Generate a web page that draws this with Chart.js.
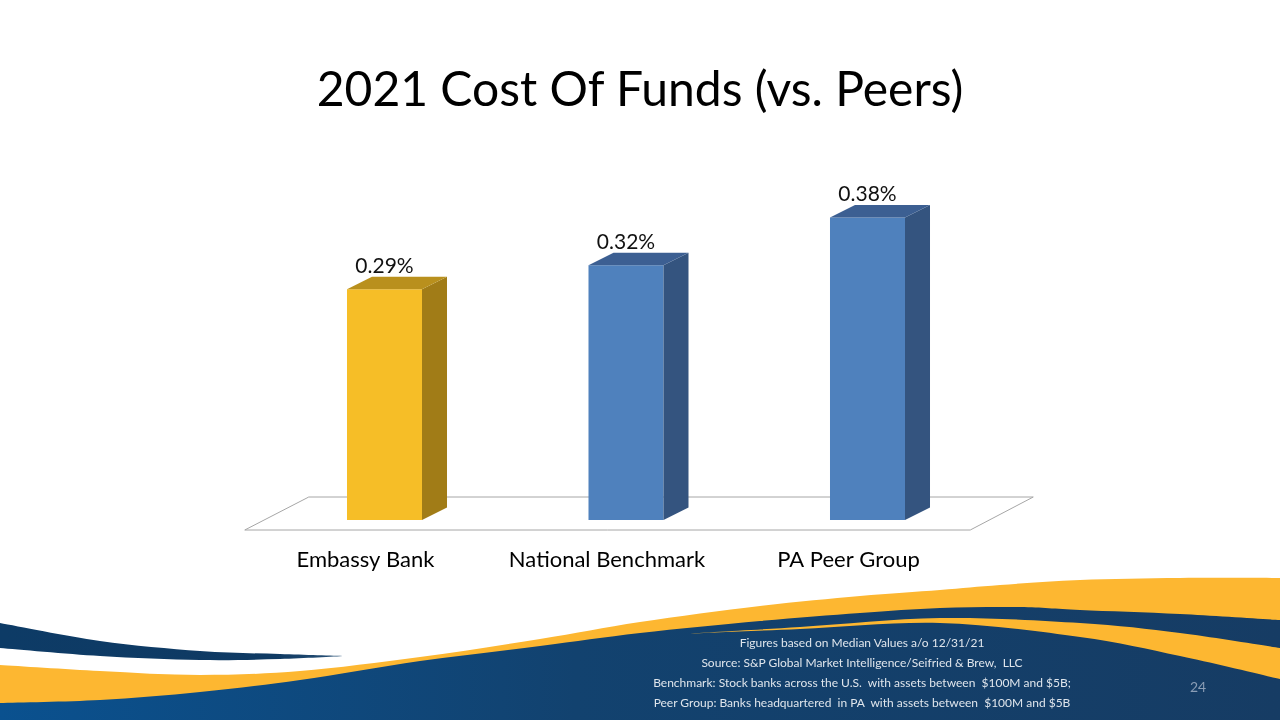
<!DOCTYPE html>
<html>
<head>
<meta charset="utf-8">
<script src="https://cdn.jsdelivr.net/npm/chart.js@4.4.1/dist/chart.umd.min.js"></script>
<style>
  html, body { margin: 0; padding: 0; background: #ffffff; }
  #stage { position: relative; width: 1280px; height: 720px; overflow: hidden; background: #fff; }
  #wave { position: absolute; left: 0; top: 0; }
  #chart { position: absolute; left: 0; top: 0; }
  #title { position: absolute; left: 0; width: 1280px; top: 64px; height: 48px; line-height: 48px; margin: 0;
           text-align: center; font-family: Lato, "Open Sans", sans-serif; font-size: 48px; font-weight: normal; color: #000; }
  #notes { position: absolute; left: 562px; width: 600px; top: 633px; text-align: center;
           font-family: Lato, "Open Sans", sans-serif; font-size: 12px; color: #dfe5ec; line-height: 20px; }
  #page { position: absolute; left: 1180px; top: 678px; width: 36px; text-align: center;
          font-family: Lato, "Open Sans", sans-serif; font-size: 14px; color: #8a9db5; }
</style>
</head>
<body>
<div id="stage">
  <svg id="wave" width="1280" height="720" xmlns="http://www.w3.org/2000/svg"></svg>
  <canvas id="chart" width="1280" height="720"></canvas>
  <h1 id="title">2021 Cost Of Funds (vs. Peers)</h1>
  <div id="notes">
    <div>Figures based on Median Values a/o 12/31/21</div>
    <div>Source: S&amp;P Global Market Intelligence/Seifried &amp; Brew,&nbsp; LLC</div>
    <div>Benchmark: Stock banks across the U.S.&nbsp; with assets between&nbsp; $100M and $5B;</div>
    <div>Peer Group: Banks headquartered&nbsp; in PA&nbsp; with assets between&nbsp; $100M and $5B</div>
  </div>
  <div id="page">24</div>
</div>
<script>
// ---- Data ----
const categories = ['Embassy Bank', 'National Benchmark', 'PA Peer Group'];
const costOfFunds = [0.29, 0.32, 0.38];
const valueLabels = ['0.29%', '0.32%', '0.38%'];
const frontColors = ['#F6BE27', '#4F81BD', '#4F81BD'];
const sideColors = ['#A17C17', '#34547F', '#34547F'];
const topColors = ['#B9901D', '#3C5F92', '#3C5F92'];
const yMin = 0;
const yMax = 0.4;

// ---- Decorative wave (background) ----
function smoothPath(pts) {
  let d = '';
  for (let i = 0; i < pts.length - 1; i++) {
    const p0 = pts[Math.max(0, i - 1)], p1 = pts[i], p2 = pts[i + 1], p3 = pts[Math.min(pts.length - 1, i + 2)];
    const c1x = p1[0] + (p2[0] - p0[0]) / 6, c1y = p1[1] + (p2[1] - p0[1]) / 6;
    const c2x = p2[0] - (p3[0] - p1[0]) / 6, c2y = p2[1] - (p3[1] - p1[1]) / 6;
    d += ' C' + c1x.toFixed(1) + ' ' + c1y.toFixed(1) + ' ' + c2x.toFixed(1) + ' ' + c2y.toFixed(1) + ' ' + p2[0] + ' ' + p2[1];
  }
  return d;
}
function shape(top, bottom) {
  let d = 'M' + top[0][0] + ' ' + top[0][1] + smoothPath(top);
  if (bottom) { d += ' L' + bottom[0][0] + ' ' + bottom[0][1] + smoothPath(bottom); }
  return d + ' Z';
}
(function buildWave() {
  const svg = document.getElementById('wave');
  const yellowTop = [[0,665],[100,671],[200,675],[300,671],[420,657],[540,639],[640,622],[760,606],[860,596],[940,590],[1000,585],[1080,580],[1180,578],[1280,578]];
  const blueTop = [[0,703],[100,700],[200,692],[300,680],[420,661],[540,646],[640,633],[760,621],[860,613],[940,608],[1020,607],[1080,610],[1180,614],[1280,620]];
  const y2Top = [[680,634],[800,627],[940,618],[1080,623],[1180,633],[1280,648]];
  const y2Bot = [[1280,679],[1180,656],[1080,637],[940,623],[800,629],[680,634]];
  const swTop = [[0,623],[100,641],[200,651],[280,654],[345,656]];
  const swBot = [[345,656],[280,659],[200,660],[100,656],[0,648]];
  svg.innerHTML =
    '<defs>' +
    '<linearGradient id="bg" x1="0" y1="0" x2="1280" y2="0" gradientUnits="userSpaceOnUse">' +
    '<stop offset="0" stop-color="#0a518f"/><stop offset="0.45" stop-color="#12426f"/><stop offset="1" stop-color="#163c64"/></linearGradient>' +
    '<linearGradient id="sw" x1="0" y1="0" x2="345" y2="0" gradientUnits="userSpaceOnUse">' +
    '<stop offset="0" stop-color="#0d3b66"/><stop offset="0.8" stop-color="#0f3a63"/><stop offset="1" stop-color="#2a5378"/></linearGradient>' +
    '</defs>' +
    '<path d="' + shape(yellowTop, [[1280,720],[0,720]]) + '" fill="#FDB731"/>' +
    '<path d="' + shape(blueTop, [[1280,720],[0,720]]) + '" fill="url(#bg)"/>' +
    '<path d="' + shape(y2Top, y2Bot) + '" fill="#FDB731"/>' +
    '<path d="' + shape(swTop, swBot) + '" fill="url(#sw)"/>';
})();

// ---- 3D bar + floor plugin ----
const DX = 25, DY = 12.5;
const bars3d = {
  id: 'bars3d',
  beforeDatasetsDraw(chart) {
    const { ctx, chartArea } = chart;
    const base = chart.scales.y.getPixelForValue(0);
    ctx.save();
    ctx.beginPath();
    ctx.moveTo(chartArea.left - 19, base + 10);
    ctx.lineTo(chartArea.right - 18, base + 10);
    ctx.lineTo(chartArea.right + 45, base - 23);
    ctx.lineTo(chartArea.left + 45, base - 23);
    ctx.closePath();
    ctx.fillStyle = '#ffffff';
    ctx.fill();
    ctx.strokeStyle = '#a6a6a6';
    ctx.lineWidth = 1;
    ctx.stroke();
    ctx.restore();
  },
  afterDatasetsDraw(chart) {
    const { ctx } = chart;
    const meta = chart.getDatasetMeta(0);
    ctx.save();
    meta.data.forEach((bar, i) => {
      const { x, y, base, width } = bar.getProps(['x', 'y', 'base', 'width'], true);
      const l = x - width / 2, r = x + width / 2;
      ctx.beginPath();
      ctx.moveTo(r, y); ctx.lineTo(r + DX, y - DY); ctx.lineTo(r + DX, base - DY); ctx.lineTo(r, base);
      ctx.closePath();
      ctx.fillStyle = sideColors[i]; ctx.fill();
      ctx.beginPath();
      ctx.moveTo(l, y); ctx.lineTo(l + DX, y - DY); ctx.lineTo(r + DX, y - DY); ctx.lineTo(r, y);
      ctx.closePath();
      ctx.fillStyle = topColors[i]; ctx.fill();
      ctx.fillStyle = '#111111';
      ctx.font = '21px Lato, "Open Sans", sans-serif';
      ctx.textAlign = 'center';
      ctx.textBaseline = 'middle';
      ctx.fillText(valueLabels[i], x, y - 23);
    });
    ctx.restore();
  }
};

new Chart(document.getElementById('chart'), {
  type: 'bar',
  data: {
    labels: categories,
    datasets: [{
      data: costOfFunds,
      backgroundColor: frontColors,
      borderWidth: 0,
      categoryPercentage: 1,
      barPercentage: 0.3106
    }]
  },
  plugins: [bars3d],
  options: {
    responsive: false,
    animation: false,
    devicePixelRatio: 1,
    layout: { padding: { left: 263.75, right: 291.75, top: 201.6, bottom: 0 } },
    plugins: {
      legend: { display: false },
      tooltip: { enabled: false },
      title: { display: false }
    },
    scales: {
      y: { display: false, min: yMin, max: yMax },
      x: {
        grid: { display: false, drawTicks: false },
        border: { display: false },
        ticks: { color: '#000000', font: { family: 'Lato, "Open Sans", sans-serif', size: 22 }, padding: 27, maxRotation: 0, labelOffset: -19 },
        afterFit(scale) { scale.height = 200; }
      }
    }
  }
});
</script>
</body>
</html>
